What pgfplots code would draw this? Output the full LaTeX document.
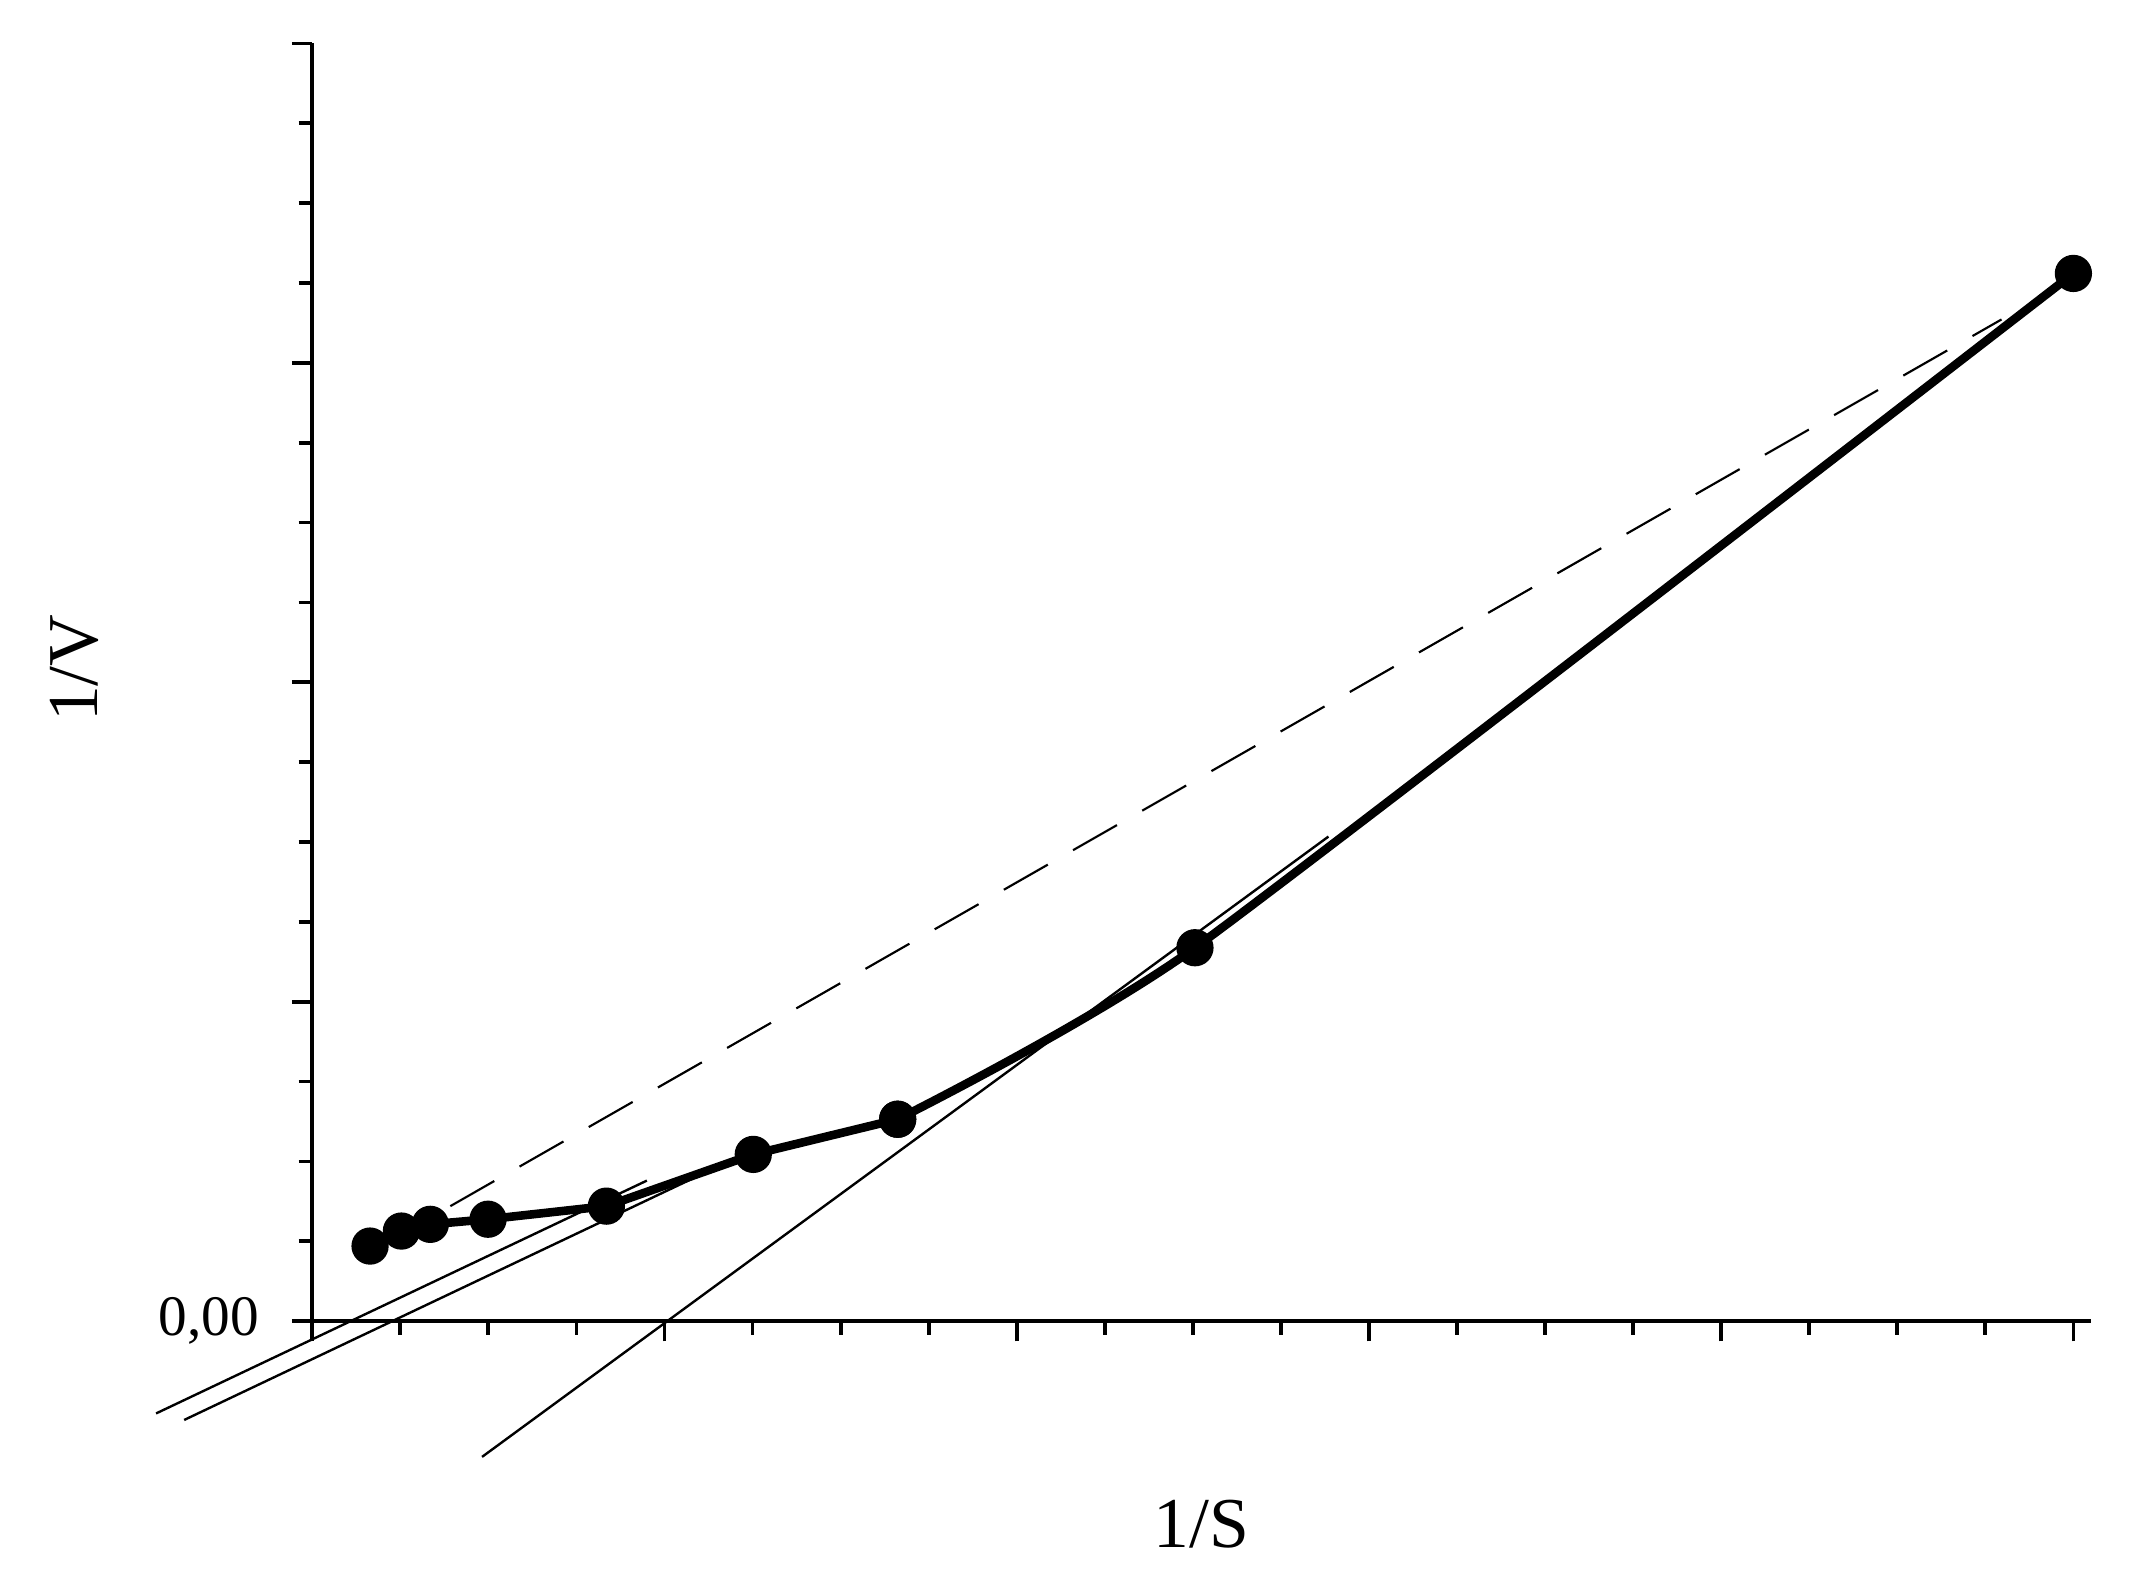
\documentclass[border=0pt]{standalone}
\usepackage{pgfplots}
\pgfplotsset{compat=1.18}
\usepackage{fontspec}
\setmainfont{Liberation Serif}

\begin{document}
\begin{tikzpicture}
    \path[use as bounding box] (-2.30,-1.99) rectangle (13.38,9.73);
    \begin{axis}[
        at={(0,0)}, anchor=origin,
        scale only axis,
        width=13.1cm, height=9.41cm,
        xmin=0, xmax=5.05, ymin=0, ymax=4,
        axis lines*=left,
        axis line style={line width=0.9pt},
        clip=false,
        tick align=outside,
        major tick length=0.15cm,
        minor tick length=0.1cm,
        every tick/.style={black, line width=0.8pt},
        xtick={0,1,2,3,4,5}, xticklabels={},
        ytick={0,1,2,3,4}, yticklabels={{\mbox{0,00}},{},{},{},{}},
        minor x tick num=3,
        minor y tick num=3,
        yticklabel style={font=\fontsize{12}{14}\selectfont, xshift=-0.12cm},
        xlabel={1/S}, ylabel={1/V},
        label style={font=\fontsize{15}{18}\selectfont},
        xlabel style={at={(axis description cs:0.5,-0.159)}, anchor=center},
        ylabel style={at={(axis description cs:-0.1336,0.511)}, anchor=center},
    ]
    % measured points, straight part
    \addplot[black, line width=1.8pt, mark=*, mark size=3pt]
        coordinates {(0.164,0.235) (0.253,0.282) (0.335,0.303) (0.499,0.319)
                     (0.835,0.360) (1.252,0.522) (1.662,0.632)};
    % measured points, curved part
    \addplot[black, line width=1.8pt, smooth, tension=0.32, mark=*, mark size=3pt]
        coordinates {(1.662,0.632) (2.506,1.169) (5.0,3.280)};
    % dashed line
    \addplot[black, line width=0.45pt, dash pattern=on 10.6pt off 6.1pt]
        coordinates {(0.392,0.360) (4.796,3.136)};
    % two parallel lines at low 1/S
    \addplot[black, line width=0.5pt] coordinates {(-0.4435,-0.289) (0.95,0.440)};
    \addplot[black, line width=0.5pt] coordinates {(-0.3637,-0.3094) (1.10,0.457)};
    % steep line
    \addplot[black, line width=0.5pt] coordinates {(0.482,-0.425) (2.885,1.517)};
    \end{axis}
\end{tikzpicture}
\end{document}
